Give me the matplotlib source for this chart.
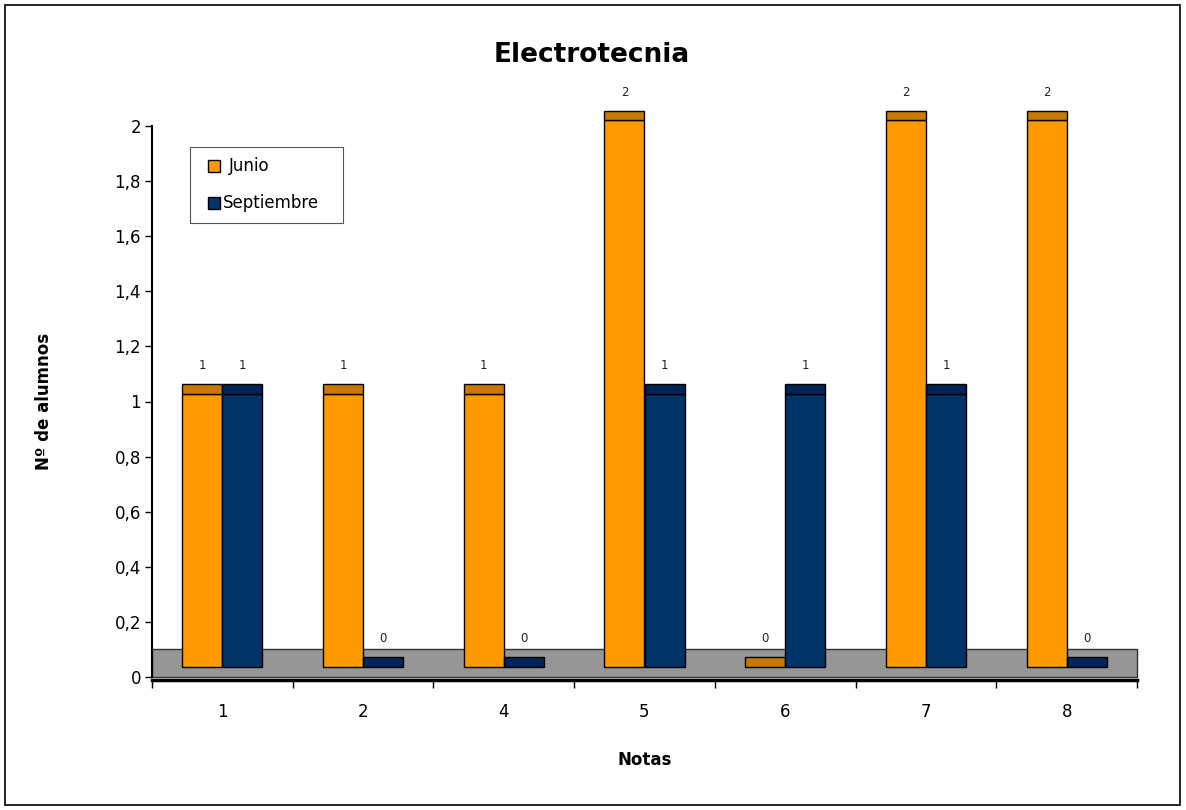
import matplotlib
matplotlib.use("Agg")
import matplotlib.pyplot as plt
from matplotlib.patches import Rectangle
from matplotlib.lines import Line2D
import numpy as np

categories = ["1", "2", "4", "5", "6", "7", "8"]
junio = [1, 1, 1, 2, 0, 2, 2]
septiembre = [1, 0, 0, 1, 1, 1, 0]
yticks = [0, 0.2, 0.4, 0.6, 0.8, 1.0, 1.2, 1.4, 1.6, 1.8, 2.0]
ytick_labels = ["0", "0,2", "0,4", "0,6", "0,8", "1", "1,2", "1,4", "1,6", "1,8", "2"]
series_names = ["Junio", "Septiembre"]

plt.rcParams['font.family'] = ['DejaVu Sans']

fig = plt.figure(figsize=(11.86, 8.10), dpi=100)
ax = fig.add_axes([152/1186, 133/810, (1137-152)/1186, (677-126)/810])

x = np.arange(len(categories))
w = 0.285
base = 0.036
cap = 0.036

# floor
ax.add_patch(Rectangle((-0.5, 0), 7.0, 0.10, facecolor="#969696",
                       edgecolor="#333333", linewidth=1.0, zorder=1, clip_on=False))

series = [(junio, -w/2, "#FF9900", "#C87800"),
          (septiembre, w/2, "#003366", "#002456")]
for vals, off, face, top in series:
    for xi, v in zip(x, vals):
        left = xi + off - w/2
        front_top = base + v * 0.992
        if v > 0:
            ax.add_patch(Rectangle((left, base), w, front_top - base, facecolor=face,
                                   edgecolor="black", linewidth=1.0, zorder=3, clip_on=False))
        ax.add_patch(Rectangle((left, front_top), w, cap, facecolor=top,
                               edgecolor="black", linewidth=1.0, zorder=3, clip_on=False))
        ax.text(xi + off, front_top + cap + 0.066, str(v), ha="center", va="center",
                fontsize=8.5, color="#222222", zorder=4, clip_on=False)

ax.set_xlim(-0.5, 6.5)
ax.set_ylim(0, 2.0)
ax.set_yticks(yticks)
ax.set_yticklabels(ytick_labels)
ax.set_xticks(x)
ax.set_xticklabels(categories)
ax.set_xticks(np.arange(-0.5, 7.0, 1.0), minor=True)
ax.tick_params(axis="x", which="major", length=0, pad=17, labelsize=12)
ax.tick_params(axis="x", which="minor", length=6, direction="out", width=1)
ax.tick_params(axis="y", length=5, direction="out", width=1, pad=3, labelsize=12)

for s in ["top", "right"]:
    ax.spines[s].set_visible(False)
ax.spines["left"].set_linewidth(1.5)
ax.spines["bottom"].set_linewidth(2.5)
ax.spines["bottom"].set_position(("data", -0.01))

ax.set_xlabel("Notas", fontsize=12, fontweight="bold", labelpad=21)
ax.set_ylabel("Nº de alumnos", fontsize=12, fontweight="bold", labelpad=44)

fig.text(592/1186, 1 - 55/810, "Electrotecnia", ha="center", va="center",
         fontsize=19, fontweight="bold")

# legend (drawn in figure pixel coords)
H = 810
W = 1186
fig.add_artist(Rectangle((190/W, 1 - 223/H), 153/W, 76/H, transform=fig.transFigure,
                         facecolor="white", edgecolor="#555555", linewidth=0.8))
leg_colors = ["#FF9900", "#003366"]
leg_y = [166, 203]
leg_tx = [229, 223]
for name, col, ly, tx in zip(series_names, leg_colors, leg_y, leg_tx):
    fig.add_artist(Line2D([214/W], [1 - ly/H], transform=fig.transFigure, marker="s",
                          markersize=9, markerfacecolor=col, markeredgecolor="black",
                          markeredgewidth=1.0, linestyle="none"))
    fig.text(tx/W, 1 - ly/H, name, ha="left", va="center", fontsize=12)

# outer border
fig.add_artist(Rectangle((5/W, 5/H), 1175/W, 800/H, transform=fig.transFigure,
                         fill=False, edgecolor="black", linewidth=1.2))

fig.savefig("out.png", dpi=100)
